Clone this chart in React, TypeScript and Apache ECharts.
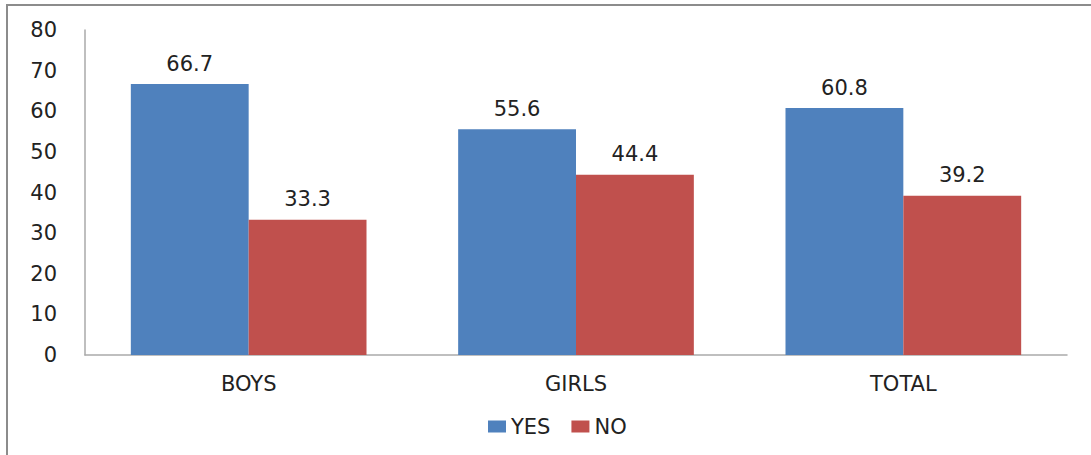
import React, { useEffect, useRef } from "react";
import * as echarts from "echarts";

const categories = ["BOYS", "GIRLS", "TOTAL"];
const yesValues = [66.7, 55.6, 60.8];
const noValues = [33.3, 44.4, 39.2];
const seriesNames = ["YES", "NO"];

export default function App() {
  const ref = useRef<HTMLDivElement>(null);
  useEffect(() => {
    document.body.style.margin = "0";
    const chart = echarts.init(ref.current!, undefined, { renderer: "svg" });
    const font = "DejaVu Sans";
    const fs = 21;
    const labelStyle = {
      show: true,
      position: "top" as const,
      distance: 10,
      color: "#222",
      fontSize: fs,
      fontFamily: font,
    };
    chart.setOption({
      animation: false,
      backgroundColor: "#fff",
      textStyle: { fontFamily: font },
      graphic: [
        {
          type: "rect",
          shape: { x: 7, y: 5, width: 1200, height: 600 },
          style: { fill: "none", stroke: "#8c8c8c", lineWidth: 2 },
          silent: true,
          z: 100,
        },
      ],
      grid: { left: 85, right: 24, top: 30, bottom: 100, containLabel: false },
      legend: {
        data: seriesNames,
        top: 411,
        left: 483,
        itemWidth: 18,
        itemHeight: 12,
        itemGap: 21,
        icon: "rect",
        textStyle: { fontSize: fs, color: "#222", fontFamily: font },
      },
      xAxis: {
        type: "category",
        data: categories,
        axisLine: { show: true, lineStyle: { color: "#aaa", width: 1.5 } },
        axisTick: { show: false },
        axisLabel: { margin: 18, fontSize: fs, color: "#222", fontFamily: font },
      },
      yAxis: {
        type: "value",
        min: 0,
        max: 80,
        interval: 10,
        splitLine: { show: false },
        axisLine: { show: true, lineStyle: { color: "#aaa", width: 1.5 } },
        axisTick: { show: false },
        axisLabel: { margin: 28, fontSize: fs, color: "#222", fontFamily: font },
      },
      series: [
        {
          name: seriesNames[0],
          type: "bar",
          data: yesValues,
          itemStyle: { color: "#4F81BD" },
          barGap: "0%",
          barCategoryGap: "28%",
          label: labelStyle,
        },
        {
          name: seriesNames[1],
          type: "bar",
          data: noValues,
          itemStyle: { color: "#C0504D" },
          barGap: "0%",
          barCategoryGap: "28%",
          label: labelStyle,
        },
      ],
    });
    return () => chart.dispose();
  }, []);
  return <div ref={ref} style={{ width: 1091, height: 455 }} />;
}
